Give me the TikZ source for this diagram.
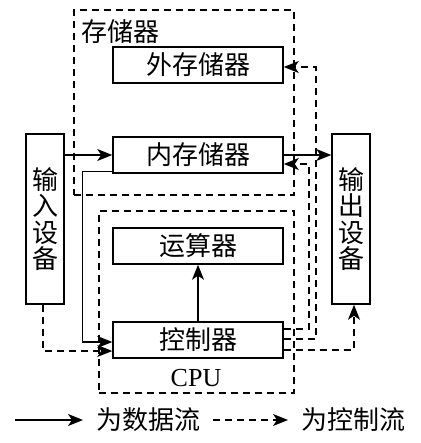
\documentclass[tikz,border=0pt]{standalone}
\usepackage{fontspec}
\setmainfont{Liberation Serif}
\newfontfamily\cjk{Noto Sans CJK SC}
\usetikzlibrary{arrows.meta,calc}
\tikzset{
  box/.style={draw, line width=1.5pt, minimum width=170pt, minimum height=36pt, inner sep=0pt, font=\cjk\fontsize{26}{27}\selectfont},
  vbox/.style={draw, line width=1.5pt, minimum width=38pt, minimum height=170pt, inner sep=0pt, align=center, font=\cjk\fontsize{26}{26.5}\selectfont},
  group/.style={draw, line width=1.5pt, dash pattern=on 7pt off 5pt, inner sep=0pt},
  data/.style={line width=1.5pt, -{Stealth[length=15pt,width=12pt,inset=4pt]}},
  ctrl/.style={line width=1.5pt, dash pattern=on 7pt off 5pt, -{Stealth[length=15pt,width=12pt,inset=4pt]}},
  lbl/.style={inner sep=0pt, font=\cjk\fontsize{26}{27}\selectfont},
}
\begin{document}
\begin{tikzpicture}[x=1pt,y=-1pt]
\useasboundingbox (0,0) rectangle (420,443);
\node[group, minimum width=220pt, minimum height=185pt] (store) at (184,102.5) {};
\node[group, minimum width=195pt, minimum height=182pt] (cpu) at (196.5,302) {};
\node[lbl, anchor=west] (storelbl) at (81,32) {存储器};
\node[inner sep=0pt, font=\fontsize{26}{27}\selectfont] (cpulbl) at (196,378) {CPU};
\node[box] (ext) at (198,65) {外存储器};
\node[box] (mem) at (198,155) {内存储器};
\node[box] (alu) at (198,246) {运算器};
\node[box] (ctl) at (198,340) {控制器};
\node[vbox] (in) at (45,219) {输\\入\\设\\备};
\node[vbox] (out) at (351,219) {输\\出\\设\\备};
% data flows
\draw[data] (in.east |- mem.west) -- (mem.west);
\draw[data] (mem.east) -- (out.west |- mem.east);
\draw[data] ([yshift=2pt]mem.south west) -- ++(-30,0) |- ([yshift=-2pt]ctl.west);
\draw[data] (ctl.north) -- (alu.south);
% control flows
\draw[ctrl] ([xshift=-2pt]in.south) |- ([yshift=-11pt]ctl.west);
\draw[ctrl] ([yshift=11pt]ctl.east) -- ++(25,0) |- ([yshift=-9pt]mem.east);
\draw[ctrl] ([yshift=1pt]ctl.east) -- ++(32,0) |- ([yshift=-2pt]ext.east);
\draw[ctrl] ([yshift=-10pt]ctl.east) -| ([xshift=3pt]out.south);
% legend
\coordinate (la) at (15,420);
\coordinate (lb) at (83,420);
\coordinate (lc) at (213,420);
\coordinate (ld) at (288,420);
\draw[data] (la) -- (lb);
\node[lbl, anchor=west] (ldata) at (96,420) {为数据流};
\draw[ctrl] (lc) -- (ld);
\node[lbl, anchor=west] (lctrl) at (301,420) {为控制流};
\end{tikzpicture}
\end{document}
